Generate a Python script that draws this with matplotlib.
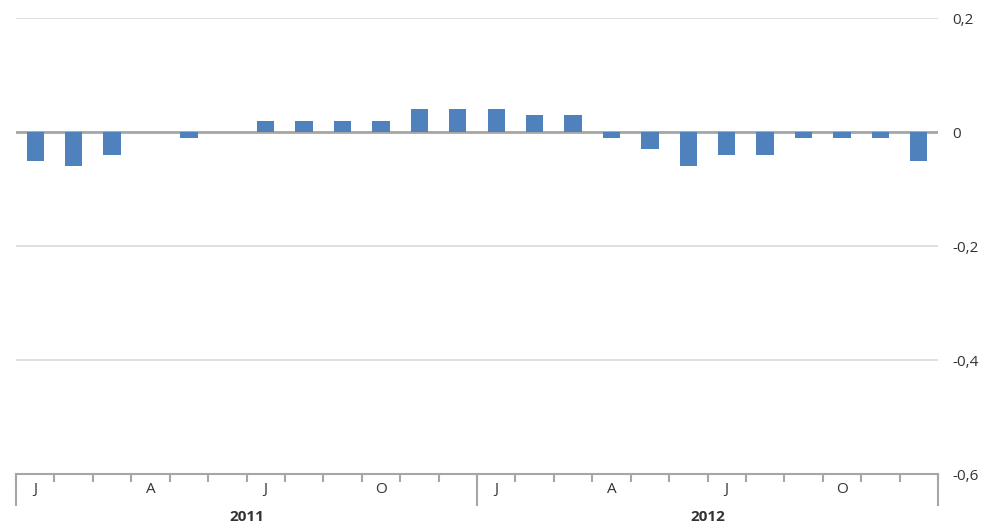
import matplotlib.pyplot as plt
import matplotlib.transforms as mtransforms
import numpy as np

plt.rcParams['font.family'] = ['Open Sans', 'DejaVu Sans']

# monthly values, Jan 2011 - Dec 2012
years = ['2011', '2012']
month_labels = ['J', '', '', 'A', '', '', 'J', '', '', 'O', '', '',
                'J', '', '', 'A', '', '', 'J', '', '', 'O', '', '']
values = [-0.05, -0.06, -0.04, 0.0, -0.01, 0.0, 0.02, 0.02, 0.02, 0.02, 0.04, 0.04,
          0.04, 0.03, 0.03, -0.01, -0.03, -0.06, -0.04, -0.04, -0.01, -0.01, -0.01, -0.05]
y_ticks = [0.2, 0, -0.2, -0.4, -0.6]

fig = plt.figure(figsize=(9.92, 5.29), dpi=100)
ax = fig.add_axes([16 / 992, 1 - 474 / 529, 922 / 992, 456 / 529])

x = np.arange(len(values))
ax.bar(x, values, width=0.45, color='#4F81BD', zorder=3)

ax.set_xlim(-0.5, len(values) - 0.5)
ax.set_ylim(-0.6, 0.2)

# grid and zero line
for v in y_ticks[:-1]:
    ax.axhline(v, color='#D9D9D9', lw=1.2, zorder=1)
ax.axhline(0, color='#A6A6A6', lw=2, zorder=2)

for s in ['top', 'left', 'right']:
    ax.spines[s].set_visible(False)
ax.spines['bottom'].set_color('#A6A6A6')
ax.spines['bottom'].set_linewidth(1.5)

txt = dict(fontsize=11, color='#333333')

# y axis on the right with comma decimals
ax.yaxis.tick_right()
ax.set_yticks(y_ticks)
ax.set_yticklabels([('%g' % v).replace('.', ',') for v in y_ticks], **txt)
ax.tick_params(axis='y', length=0, pad=10)

# month labels in the centre, ticks on month boundaries
ax.set_xticks(x)
ax.set_xticklabels(month_labels, **txt)
ax.set_xticks(np.arange(-0.5, len(values), 1), minor=True)
ax.tick_params(axis='x', which='major', length=0, pad=6)
ax.tick_params(axis='x', which='minor', length=6, width=1.5, color='#A6A6A6')

# longer ticks at year boundaries
sec = ax.secondary_xaxis('bottom')
sec.set_xticks(np.arange(-0.5, len(values), 12))
sec.set_xticklabels([])
sec.tick_params(length=23, width=1.5, color='#A6A6A6')
sec.spines['bottom'].set_visible(False)

# year labels
trans = mtransforms.blended_transform_factory(ax.transData, fig.transFigure)
for i, yr in enumerate(years):
    ax.text(i * 12 + 5.5, 1 - 517 / 529, yr, transform=trans, ha='center', va='center',
            fontweight='bold', **txt)

fig.savefig('out.png', dpi=100)
